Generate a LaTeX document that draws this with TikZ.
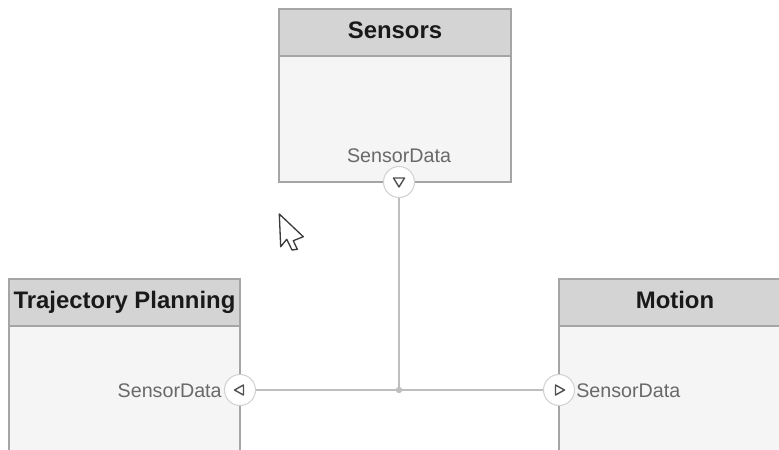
\documentclass[tikz,border=0pt]{standalone}
\usepackage{fontspec}
\setmainfont{Liberation Sans}
\usetikzlibrary{calc}
\usepackage{xcolor}

\definecolor{hdrgray}{RGB}{212,212,212}
\definecolor{bodygray}{RGB}{245,245,245}
\definecolor{edgegray}{RGB}{165,165,165}
\definecolor{wiregray}{RGB}{190,190,190}
\definecolor{ringgray}{RGB}{210,210,210}
\definecolor{labelgray}{RGB}{105,105,105}
\definecolor{trigray}{RGB}{80,80,80}
\definecolor{titleblack}{RGB}{25,25,25}

\tikzset{
    boxline/.style={draw=edgegray, line width=0.6pt},
    title/.style={anchor=base, text=titleblack, font=\fontsize{13.6}{15}\selectfont\bfseries, inner sep=0pt},
    portlabel/.style={anchor=base, text=labelgray, font=\fontsize{11.2}{13}\selectfont, inner sep=0pt},
    port/.style={circle, draw=ringgray, fill=white, line width=0.6pt, minimum size=0.62cm, inner sep=0pt},
    tri/.style={draw=trigray, line width=0.8pt, line join=round},
    wire/.style={draw=wiregray, line width=0.9pt}
}

\begin{document}
\begin{tikzpicture}[x=0.02cm,y=-0.02cm]
        \useasboundingbox (0,0) rectangle (779,450);
        \clip (0,0) rectangle (779,450);

        % blocks
        \draw[boxline,fill=bodygray] (279,9) rectangle (511,182);
        \draw[boxline,fill=hdrgray] (279,9) rectangle (511,56);
        \node[title] (sensors) at (395,38) {Sensors};

        \draw[boxline,fill=bodygray] (9,279) rectangle (240,470);
        \draw[boxline,fill=hdrgray] (9,279) rectangle (240,326);
        \node[title] (traj) at (124.5,308) {Trajectory Planning};

        \draw[boxline,fill=bodygray] (559,279) rectangle (800,470);
        \draw[boxline,fill=hdrgray] (559,279) rectangle (800,326);
        \node[title] (motion) at (675,308) {Motion};

        % ports
        \coordinate (junction) at (399,390);
        \node[port] (sensorsport) at (399,182) {};
        \node[port] (trajport) at (240,390) {};
        \node[port] (motionport) at (559,390) {};

        \draw[wire] (sensorsport) -- (junction);
        \draw[wire] (trajport) -- (motionport);
        \fill[wiregray] (junction) circle (3.2);

        \draw[tri] ($(sensorsport)+(-5.5,-4)$) -- ++(11,0) -- ++(-5.5,9) -- cycle;
        \draw[tri] ($(trajport)+(3.5,-5)$) -- ++(0,10) -- ++(-9,-5) -- cycle;
        \draw[tri] ($(motionport)+(-3.5,-5)$) -- ++(0,10) -- ++(9,-5) -- cycle;

        \node[portlabel] (sensorslabel) at (399,162) {SensorData};
        \node[portlabel, anchor=base east] (trajlabel) at (222,397) {SensorData};
        \node[portlabel, anchor=base west] (motionlabel) at (576,397) {SensorData};

        % mouse pointer
        \draw[titleblack!85, fill=white, line width=0.75pt, line join=round]
            (279.3,214) -- (280.7,246.7) -- (286.7,239.3) -- (292,250) -- (297.3,249.3)
            -- (293.3,240.7) -- (303.3,236.7) -- cycle;

    \end{tikzpicture}
\end{document}
